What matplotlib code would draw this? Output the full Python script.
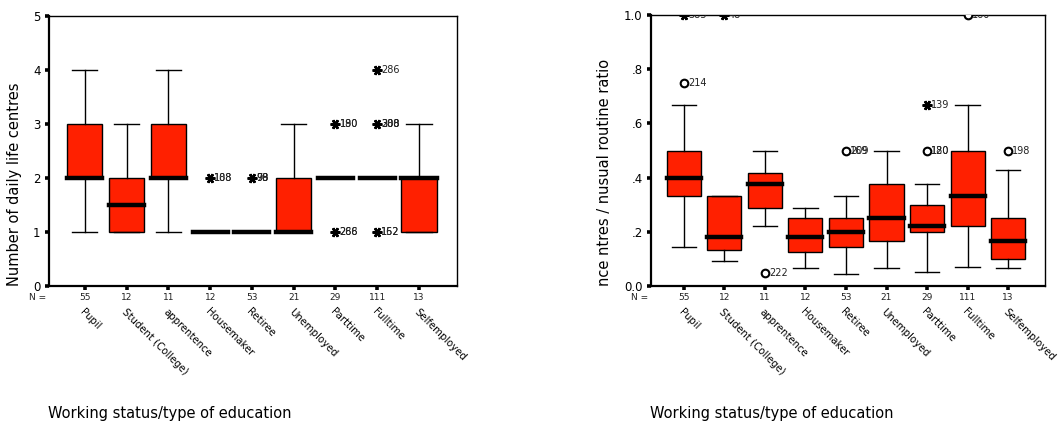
import matplotlib
matplotlib.use("Agg")
import matplotlib.pyplot as plt
from matplotlib.transforms import blended_transform_factory

plt.rcParams['font.family'] = ['DejaVu Sans']

# ---------------- data ----------------
categories = ["Pupil", "Student (College)", "apprentence", "Housemaker", "Retiree",
              "Unemployed", "Parttime", "Fulltime", "Selfemployed"]
n_counts = [55, 12, 11, 12, 53, 21, 29, 111, 13]

# Left panel: number of daily life centres
c_lo = [1, 1, 1, 1, 1, 1, 2, 2, 1]
c_q1 = [2, 1, 2, 1, 1, 1, 2, 2, 1]
c_med = [2, 1.5, 2, 1, 1, 1, 2, 2, 2]
c_q3 = [3, 2, 3, 1, 1, 2, 2, 2, 2]
c_hi = [4, 3, 4, 1, 1, 3, 2, 2, 3]
c_ext_cat = [4, 5, 7, 7, 8, 8, 8]
c_ext_val = [2, 2, 3, 1, 4, 3, 1]
c_ext_lab = [("188", "108"), ("98", "78", "99"), ("180", "190"), ("288", "266"),
             ("286",), ("288", "308", "300"), ("152", "162")]

# Right panel: ratio
r_lo = [0.143, 0.091, 0.222, 0.0667, 0.0435, 0.0667, 0.05, 0.0714, 0.0667]
r_q1 = [0.333, 0.133, 0.286, 0.125, 0.143, 0.167, 0.2, 0.222, 0.1]
r_med = [0.4, 0.182, 0.375, 0.182, 0.2, 0.25, 0.222, 0.333, 0.167]
r_q3 = [0.5, 0.333, 0.417, 0.25, 0.25, 0.375, 0.3, 0.5, 0.25]
r_hi = [0.667, 0.333, 0.5, 0.286, 0.333, 0.5, 0.375, 0.667, 0.429]
r_out_cat = [1, 3, 5, 7, 8, 9]
r_out_val = [0.75, 0.048, 0.5, 0.5, 1.0, 0.5]
r_out_lab = [("214",), ("222",), ("209", "169"), ("120", "180"), ("160",), ("198",)]
r_ext_cat = [1, 2, 7]
r_ext_val = [1.0, 1.0, 0.667]
r_ext_lab = [("385",), ("48",), ("139",)]

BOX_COLOR = "#ff2000"
positions = list(range(1, len(categories) + 1))

fig = plt.figure(figsize=(10.64, 4.23), dpi=100)
W, H = 1064, 423


def axes_px(x0, x1, y0, y1):
    return [x0 / W, (H - y1) / H, (x1 - x0) / W, (y1 - y0) / H]


def draw_panel(ax, lo, q1, med, q3, hi, xlim, ylim, yticks, yticklabels,
               outliers, extremes):
    stats = []
    for i in range(len(categories)):
        stats.append(dict(med=med[i], q1=q1[i], q3=q3[i], whislo=lo[i],
                          whishi=hi[i], fliers=[]))
    ax.bxp(stats, positions=positions, widths=0.84, capwidths=0.6,
           showfliers=False, patch_artist=True,
           boxprops=dict(facecolor=BOX_COLOR, edgecolor="black", linewidth=1.0),
           medianprops=dict(color="black", linewidth=3.2,
                            solid_capstyle="projecting"),
           whiskerprops=dict(color="black", linewidth=1.0),
           capprops=dict(color="black", linewidth=1.0))

    for cats, vals, labs, marker in outliers + extremes:
        for c, v, lab in zip(cats, vals, labs):
            if marker == "o":
                ln, = ax.plot([c], [v], marker="o", ms=5.5, mfc="white", mec="black",
                              mew=1.5, ls="none", zorder=5)
            else:
                ln, = ax.plot([c], [v], marker=(6, 2, 90), ms=7, mec="black",
                              mew=1.8, ls="none", zorder=5)
            ln.set_clip_path(ax.patch)
            for t in lab:
                txt = ax.annotate(t, (c, v), xytext=(3, 0),
                                  textcoords="offset points", ha="left",
                                  va="center", fontsize=7, color="#222222",
                                  annotation_clip=False)
                txt.set_clip_path(ax.patch)
                txt.set_clip_on(True)

    ax.set_xlim(*xlim)
    ax.set_ylim(*ylim)
    ax.set_yticks(yticks)
    ax.set_yticklabels(yticklabels, fontsize=8.5)
    ax.set_xticks(positions)
    ax.set_xticklabels(categories, rotation=-45, ha="left", va="top",
                       rotation_mode="anchor", fontsize=7.3)
    ax.tick_params(axis="both", direction="out", length=3, width=2.6,
                   color="black")
    ax.tick_params(axis="x", pad=12)
    ax.tick_params(axis="y", pad=3)
    for s in ["left", "bottom"]:
        ax.spines[s].set_linewidth(1.6)
    for s in ["top", "right"]:
        ax.spines[s].set_linewidth(1.0)

    trans = blended_transform_factory(ax.transData, ax.transAxes)
    for p, n in zip(positions, n_counts):
        ax.annotate(str(n), (p, 0), xycoords=trans, xytext=(0, -8),
                    textcoords="offset points", ha="center", va="center",
                    fontsize=6.5, color="#222222")
    ax.annotate("N =", (0, 0), xycoords="axes fraction", xytext=(-2, -8),
                textcoords="offset points", ha="right", va="center",
                fontsize=6.5, color="#222222")


# left panel
ax1 = fig.add_axes(axes_px(49, 457, 16, 286))
draw_panel(ax1, c_lo, c_q1, c_med, c_q3, c_hi, (0.14, 9.91), (0, 5),
           [0, 1, 2, 3, 4, 5], ["0", "1", "2", "3", "4", "5"],
           [], [(c_ext_cat, c_ext_val, c_ext_lab, "*")])

# right panel
ax2 = fig.add_axes(axes_px(651, 1045, 15, 286))
draw_panel(ax2, r_lo, r_q1, r_med, r_q3, r_hi, (0.19, 9.91), (0, 1.0),
           [0, 0.2, 0.4, 0.6, 0.8, 1.0], ["0.0", ".2", ".4", ".6", ".8", "1.0"],
           [(r_out_cat, r_out_val, r_out_lab, "o")],
           [(r_ext_cat, r_ext_val, r_ext_lab, "*")])

# axis titles
fig.text(15 / W, (H - 286) / H, "Number of daily life centres", rotation=90,
         ha="center", va="bottom", fontsize=10.5)
fig.text(605 / W, (H - 286) / H, "nce ntres / nusual routine ratio",
         rotation=90, ha="center", va="bottom", fontsize=10.5)
fig.text(48 / W, (H - 413) / H, "Working status/type of education",
         ha="left", va="center", fontsize=10.5)
fig.text(650 / W, (H - 413) / H, "Working status/type of education",
         ha="left", va="center", fontsize=10.5)

fig.savefig("out.png", dpi=100)
